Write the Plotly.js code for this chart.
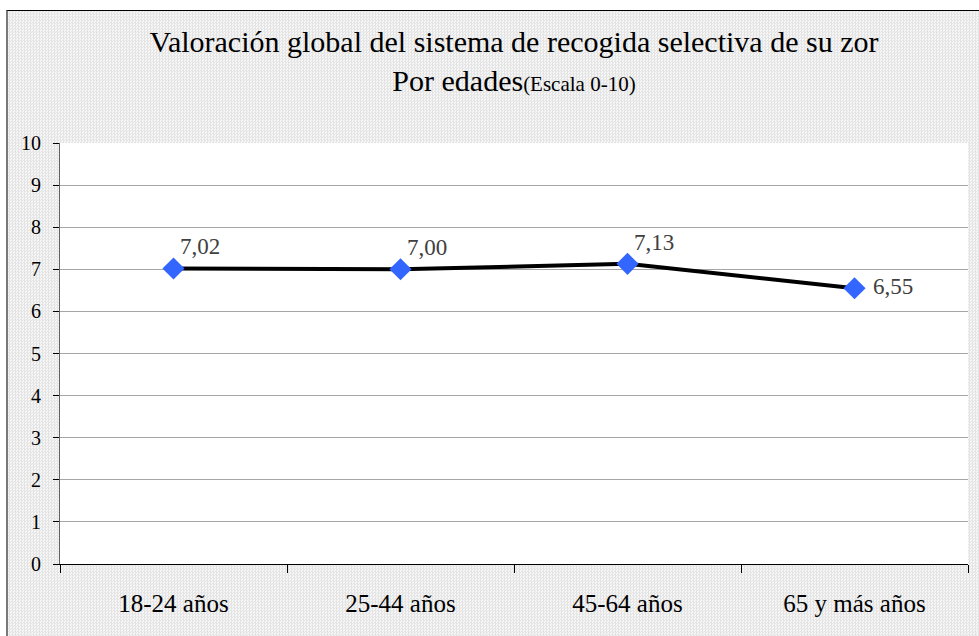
<!DOCTYPE html>
<html>
<head>
<meta charset="utf-8">
<script src="https://cdn.plot.ly/plotly-3.0.1.min.js"></script>
<style>
  html, body { margin: 0; padding: 0; background: #ffffff; }
  #frame {
    position: absolute; left: 6px; top: 10px; width: 990px; height: 640px;
    border-left: 2px solid #7a7a7a; border-top: 1px solid #000;
    background-color: #eeeeee;
    background-image: conic-gradient(#e4e4e4 25%, #f6f6f6 0 50%, #e4e4e4 0 75%, #f6f6f6 0);
    background-size: 3px 3px;
  }
  #chart { position: absolute; left: 0; top: 0; width: 979px; height: 636px; }
</style>
</head>
<body>
<div id="frame"></div>
<div id="chart"></div>
<script>
const categories = ["18-24 años", "25-44 años", "45-64 años", "65 y más años"];
const values = [7.02, 7.00, 7.13, 6.55];
const labelPositions = ["above", "above", "above", "right"];
const yTicks = [0, 1, 2, 3, 4, 5, 6, 7, 8, 9, 10];

const serif = "Liberation Serif, Times New Roman, serif";

const trace = {
  x: categories,
  y: values,
  type: "scatter",
  mode: "lines+markers",
  line: { color: "#000000", width: 4 },
  marker: { symbol: "diamond", size: 17, color: "#3366ff" },
  cliponaxis: false,
  hoverinfo: "skip"
};

const fmt = v => v.toFixed(2).replace(".", ",");
const annotations = categories.map((c, i) => {
  const above = labelPositions[i] === "above";
  return {
    x: c, y: values[i], xref: "x", yref: "y",
    text: fmt(values[i]),
    showarrow: false,
    xanchor: "left",
    yanchor: above ? "bottom" : "middle",
    xshift: above ? 4 : 16,
    yshift: above ? 7 : 2,
    font: { family: serif, size: 23, color: "#404040" }
  };
});

const layout = {
  width: 979, height: 636,
  margin: { l: 60, r: 11, t: 143, b: 72 },
  paper_bgcolor: "rgba(0,0,0,0)",
  plot_bgcolor: "#ffffff",
  showlegend: false,
  annotations: annotations,
  title: {
    text: "Valoración global del sistema de recogida selectiva de su zor<br>Por edades<span style='font-size:21px'>(Escala 0-10)</span>",
    font: { family: serif, size: 30, color: "#000000" },
    x: 0.5, xref: "paper", xanchor: "center",
    y: 1 - 52 / 636, yref: "container", yanchor: "top"
  },
  xaxis: {
    type: "category",
    range: [-0.5, 3.5],
    tickson: "boundaries",
    ticks: "outside", ticklen: 8, tickcolor: "#000", tickwidth: 1,
    showgrid: false,
    showline: true, linecolor: "#000", linewidth: 1,
    tickfont: { family: serif, size: 25, color: "#000" },
    ticklabelstandoff: 17,
    fixedrange: true
  },
  yaxis: {
    range: [0, 10],
    tickvals: yTicks,
    ticks: "outside", ticklen: 6, tickcolor: "#000", tickwidth: 1,
    showgrid: true, gridcolor: "#a6a6a6", gridwidth: 1,
    showline: true, linecolor: "#606060", linewidth: 1,
    zeroline: false,
    tickfont: { family: serif, size: 20, color: "#000" },
    ticklabelstandoff: 8,
    fixedrange: true
  }
};

Plotly.newPlot("chart", [trace], layout, { staticPlot: true, displayModeBar: false });
</script>
</body>
</html>
